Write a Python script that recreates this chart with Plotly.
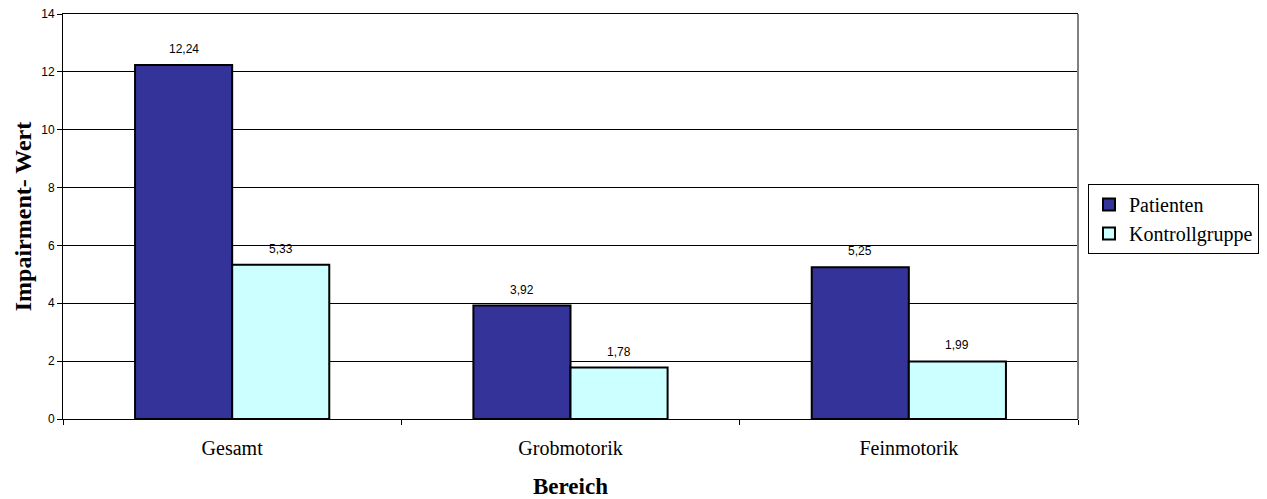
import plotly.graph_objects as go

categories = ["Gesamt", "Grobmotorik", "Feinmotorik"]
patienten = [12.24, 3.92, 5.25]
kontrollgruppe = [5.33, 1.78, 1.99]
y_ticks = [0, 2, 4, 6, 8, 10, 12, 14]

SERIF = "Liberation Serif, Times New Roman, serif"
SANS = "Liberation Sans, Arial, sans-serif"

fig = go.Figure()
fig.add_trace(go.Bar(
    name="Patienten", x=categories, y=patienten,
    marker=dict(color="#333399", line=dict(color="black", width=2)),
))
fig.add_trace(go.Bar(
    name="Kontrollgruppe", x=categories, y=kontrollgruppe,
    marker=dict(color="#CCFFFF", line=dict(color="black", width=2)),
))

# value labels above each bar, German decimal comma
half = 48.5
for series, shift in ((patienten, -half), (kontrollgruppe, half)):
    for cat, val in zip(categories, series):
        fig.add_annotation(
            x=cat, y=val, xref="x", yref="y",
            text=f"{val:.2f}".replace(".", ","),
            showarrow=False, xshift=shift, yshift=16,
            font=dict(family=SANS, size=12, color="black"),
        )

fig.update_layout(
    width=1267, height=499,
    margin=dict(l=63, r=189, t=14, b=80, autoexpand=False),
    paper_bgcolor="white", plot_bgcolor="white",
    barmode="group", bargap=0.426, bargroupgap=0,
    showlegend=True,
    legend=dict(
        xref="container", yref="container",
        x=1088 / 1267, y=1 - 184 / 499, xanchor="left", yanchor="top",
        bordercolor="black", borderwidth=1,
        font=dict(family=SERIF, size=20, color="black"),
        itemwidth=30,
    ),
    xaxis=dict(
        type="category", automargin=False,
        showline=True, linecolor="black", linewidth=1, mirror=True,
        ticks="outside", tickson="boundaries", ticklen=5, tickcolor="black",
        ticklabelstandoff=11,
        tickfont=dict(family=SERIF, size=20, color="black"),
        title=dict(text="<b>Bereich</b>", standoff=20,
                   font=dict(family=SERIF, size=23, color="black")),
        showgrid=False,
    ),
    yaxis=dict(
        range=[0, 14], tickvals=y_ticks, automargin=False,
        ticktext=[str(v) for v in y_ticks],
        showline=True, linecolor="black", linewidth=1,
        ticks="outside", ticklen=5, tickcolor="black",
        tickfont=dict(family=SANS, size=12, color="black"),
        showgrid=True, gridcolor="black", gridwidth=1,
        zeroline=False,
        title=dict(text="<b>Impairment- Wert</b>", standoff=2,
                   font=dict(family=SERIF, size=24, color="black")),
    ),
)

# grey right-hand frame line of the plot area
fig.add_shape(type="line", xref="paper", yref="paper", x0=1, x1=1, y0=0, y1=1,
              line=dict(color="#808080", width=2))

fig.write_html("out.html")
